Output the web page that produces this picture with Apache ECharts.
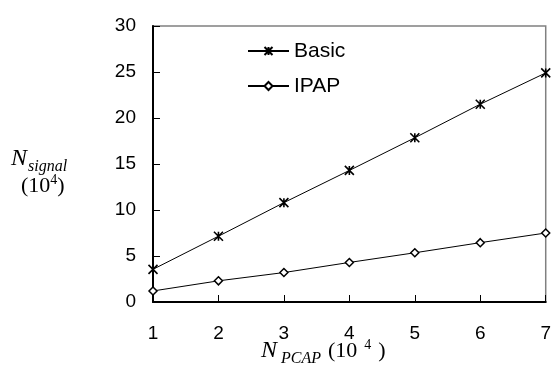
<!DOCTYPE html>
<html>
<head>
<meta charset="utf-8">
<script src="https://cdn.jsdelivr.net/npm/echarts@6/dist/echarts.min.js"></script>
<style>
  html, body { margin: 0; padding: 0; background: #fff; }
  #main { width: 554px; height: 369px; }
</style>
</head>
<body>
<div id="main"></div>
<script>
const xValues = [1, 2, 3, 4, 5, 6, 7]
const basicData = [3.55, 7.15, 10.8, 14.3, 17.85, 21.5, 24.9]
const ipapData = [1.2, 2.3, 3.2, 4.3, 5.35, 6.45, 7.5]
const seriesNames = ['Basic', 'IPAP']

let myChart = echarts.init(document.getElementById('main'))

// asterisk marker, drawn with stroke only
let starPath = 'path://M0,0L10,10M10,0L0,10M5,0L5,10'
let serif = 'Liberation Serif, Times New Roman, serif'

let option = {
  animation: false,
  textStyle: { fontFamily: 'Liberation Sans, Arial, sans-serif' },
  grid: {
    left: 153, right: 6, top: 26, bottom: 67,
    show: true,
    borderColor: '#808080',
    borderWidth: 1.5
  },
  legend: {
    orient: 'vertical',
    left: 242,
    top: 35,
    itemWidth: 41,
    itemHeight: 10,
    itemGap: 13,
    textStyle: { fontSize: 21, lineHeight: 22, color: '#000' },
    data: seriesNames
  },
  xAxis: {
    type: 'value',
    min: 1, max: 7, interval: 1,
    axisLine: { lineStyle: { color: '#000', width: 2 } },
    axisTick: { inside: true, length: 7, lineStyle: { color: '#000' } },
    axisLabel: { color: '#000', fontSize: 19, margin: 22 },
    splitLine: { show: false }
  },
  yAxis: {
    type: 'value',
    min: 0, max: 30, interval: 5,
    axisLine: { show: true, lineStyle: { color: '#000', width: 2 } },
    axisTick: { show: true, inside: true, length: 7, lineStyle: { color: '#000' } },
    axisLabel: { color: '#000', fontSize: 19, margin: 17 },
    splitLine: { show: false }
  },
  graphic: [
    {
      type: 'text', left: 11, top: 147,
      style: {
        text: '{n|N}{s|signal}',
        rich: {
          n: { fontFamily: serif, fontStyle: 'italic', fontSize: 24, fill: '#000' },
          s: { fontFamily: serif, fontStyle: 'italic', fontSize: 16, fill: '#000', padding: [16, 0, 0, 1] }
        }
      }
    },
    {
      type: 'text', left: 21, top: 173,
      style: {
        text: '{a|(10}{b|4}{a|)}',
        rich: {
          a: { fontFamily: serif, fontSize: 22, fill: '#000' },
          b: { fontFamily: serif, fontSize: 14, fill: '#000', padding: [0, 0, 12, 0] }
        }
      }
    },
    {
      type: 'text', left: 261, top: 338,
      style: {
        text: '{n|N}{s| PCAP }{p|(10}{b|  4  }{a|)}',
        rich: {
          n: { fontFamily: serif, fontStyle: 'italic', fontSize: 24, fill: '#000' },
          s: { fontFamily: serif, fontStyle: 'italic', fontSize: 16, fill: '#000', padding: [16, 0, 0, 0] },
          p: { fontFamily: serif, fontSize: 22, fill: '#000', padding: [0, 0, 0, 3] },
          a: { fontFamily: serif, fontSize: 22, fill: '#000' },
          b: { fontFamily: serif, fontSize: 14, fill: '#000', padding: [0, 0, 12, 0] }
        }
      }
    }
  ],
  series: [
    {
      name: seriesNames[0],
      type: 'line',
      data: xValues.map((x, i) => [x, basicData[i]]),
      symbol: starPath,
      symbolSize: 9,
      lineStyle: { color: '#000', width: 1 },
      itemStyle: { color: '#000', borderColor: '#000', borderWidth: 1.6 }
    },
    {
      name: seriesNames[1],
      type: 'line',
      data: xValues.map((x, i) => [x, ipapData[i]]),
      symbol: 'diamond',
      symbolSize: 8,
      lineStyle: { color: '#000', width: 1 },
      itemStyle: { color: '#fff', borderColor: '#000', borderWidth: 1.5 }
    }
  ]
}

myChart.setOption(option, true)
</script>
</body>
</html>
